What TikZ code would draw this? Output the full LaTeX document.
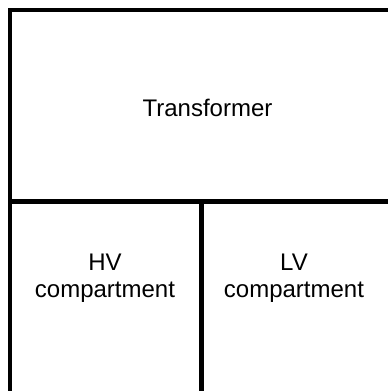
\documentclass[tikz,border=0pt]{standalone}
\usepackage{fontspec}
\setmainfont{Liberation Sans}
\usetikzlibrary{positioning}
\tikzstyle{wall} = [draw, line width=4.4, line join=miter]
\tikzstyle{roomtext} = [align=center, inner sep=0, font=\fontsize{24bp}{27bp}\selectfont]

\begin{document}
\begin{tikzpicture}[x=1bp,y=-1bp]
\useasboundingbox (0,0) rectangle (388,391);

\coordinate (nw) at (10.3,10.3);
\coordinate (ne) at (388,10.3);
\coordinate (sw) at (10.3,391);
\coordinate (mw) at (10.3,201.5);
\coordinate (me) at (388,201.5);
\coordinate (mid) at (201.5,201.5);
\coordinate (ms) at (201.5,391);

\node[roomtext] (trafo) at (207.5,108) {Transformer};
\node[roomtext] (hv) at (105,278) {HV\\compartment};
\node[roomtext] (lv) at (294,278) {LV\\compartment};

\draw[wall] (sw) -- (nw) -- (ne);
\draw[wall] (mw) -- (me);
\draw[wall] (mid) -- (ms);
\end{tikzpicture}
\end{document}
